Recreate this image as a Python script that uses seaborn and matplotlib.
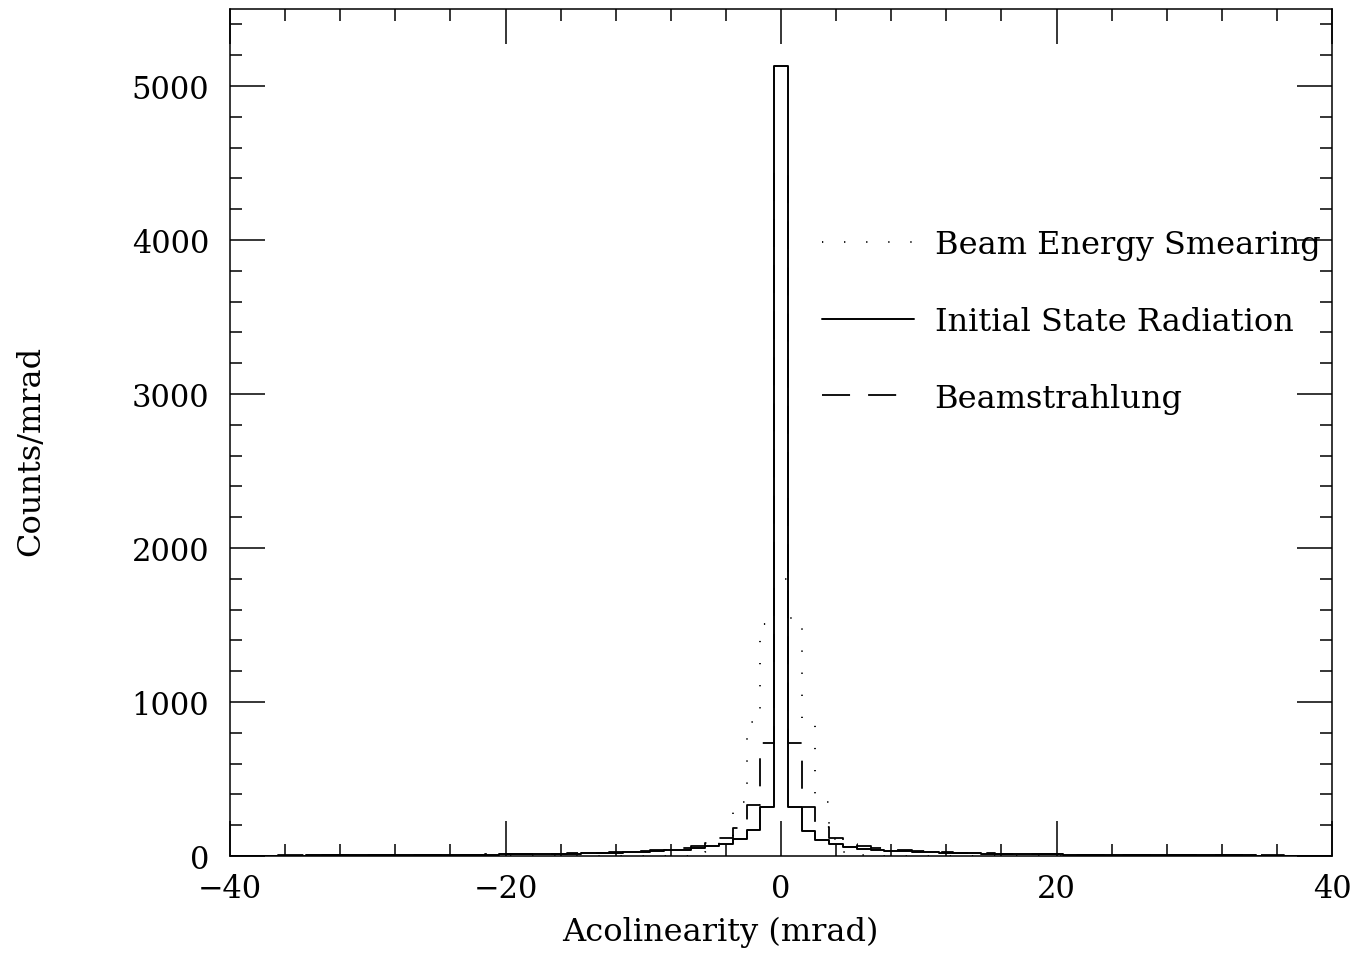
import numpy as np
import pandas as pd
import matplotlib
matplotlib.use("Agg")
import matplotlib.pyplot as plt
import seaborn as sns

# bin centres (mrad), 1 mrad wide bins
acol = np.arange(-40, 41)

# Initial State Radiation (solid)
isr = [2, 2, 3, 3, 3, 3, 4, 4, 4, 5,
       5, 5, 6, 6, 7, 7, 8, 8, 9, 9,
       10, 11, 12, 13, 14, 15, 17, 19, 21, 24,
       27, 31, 36, 42, 50, 62, 80, 110, 172, 320,
       5130,
       316, 160, 106, 78, 60, 48, 40, 34, 30, 26,
       23, 21, 19, 17, 15, 14, 13, 12, 11, 10,
       9, 9, 8, 8, 7, 7, 6, 6, 5, 5,
       5, 4, 4, 4, 3, 3, 3, 3, 2, 2]

# Beamstrahlung (dashed)
bs = [3, 3, 3, 3, 4, 4, 4, 5, 5, 5,
      6, 6, 6, 7, 7, 8, 8, 9, 9, 10,
      11, 12, 13, 14, 15, 17, 19, 21, 24, 27,
      31, 36, 42, 50, 62, 82, 118, 180, 333, 734,
      4440,
      734, 320, 186, 116, 80, 62, 50, 42, 36, 31,
      27, 24, 21, 19, 17, 15, 14, 13, 12, 11,
      10, 9, 9, 8, 8, 7, 7, 6, 6, 6,
      5, 5, 5, 4, 4, 4, 3, 3, 3, 3]

# Beam Energy Smearing (dotted)
bes = [0] * 34 + [3, 25, 105, 350, 870, 1506, 1800, 1545, 870, 350, 110, 25, 5] + [0] * 34

labels = ["Beam Energy Smearing", "Initial State Radiation", "Beamstrahlung"]

df = pd.DataFrame({"acol": acol, "isr": isr, "bs": bs, "bes": bes})

sns.set_style("ticks")
plt.rcParams["font.family"] = ["DejaVu Serif"]
plt.rcParams["lines.scale_dashes"] = False
plt.rcParams["text.color"] = "black"
plt.rcParams["axes.labelcolor"] = "black"
plt.rcParams["xtick.color"] = "black"
plt.rcParams["ytick.color"] = "black"

fig = plt.figure(figsize=(13.61, 9.54), dpi=100)
ax = fig.add_axes([230 / 1361, 1 - 857 / 954, 1102 / 1361, 847 / 954])

dash = (20.2, 13.0)
hist_kw = dict(data=df, x="acol", binwidth=1, binrange=(-40.5, 40.5),
               element="step", fill=False, color="black", ax=ax)
sns.histplot(weights="bes", linewidth=1.3, linestyle=(0, (0.9, 15)), label=labels[0], **hist_kw)
sns.histplot(weights="bs", linewidth=1.3, linestyle=(28.0, dash), label=labels[2], **hist_kw)
sns.histplot(weights="isr", linewidth=1.4, label=labels[1], **hist_kw)

ax.set_xlim(-40, 40)
ax.set_ylim(0, 5500)
ax.set_xticks([-40, -20, 0, 20, 40])
ax.set_xticks(np.arange(-40, 41, 4), minor=True)
ax.set_yticks([0, 1000, 2000, 3000, 4000, 5000])
ax.set_yticks(np.arange(0, 5501, 200), minor=True)
ax.tick_params(which="both", direction="in", top=True, right=True,
               width=1.1, color="black", labelcolor="black", labelsize=22)
ax.tick_params(which="major", length=25)
ax.tick_params(which="minor", length=8.5)
ax.tick_params(axis="y", pad=15)
ax.tick_params(axis="x", pad=12)
for s in ax.spines.values():
    s.set_linewidth(1.1)
    s.set_color("black")

ax.set_xlabel("Acolinearity (mrad)", fontsize=23)
ax.set_ylabel("Counts/mrad", fontsize=23)
ax.xaxis.set_label_coords(0.4446, -0.071)
ax.yaxis.set_label_coords(-0.167, 0.48)

h, l = ax.get_legend_handles_labels()
order = [l.index(t) for t in labels]
leg = ax.legend([h[i] for i in order], [l[i] for i in order], loc="upper left",
                bbox_to_anchor=(0.537, 0.740), frameon=False, fontsize=23,
                handlelength=2.9, handletextpad=0.63, labelspacing=1.43,
                borderpad=0, borderaxespad=0)
leg.get_lines()[2].set_linestyle((0, dash))

fig.savefig("out.png", dpi=100)
